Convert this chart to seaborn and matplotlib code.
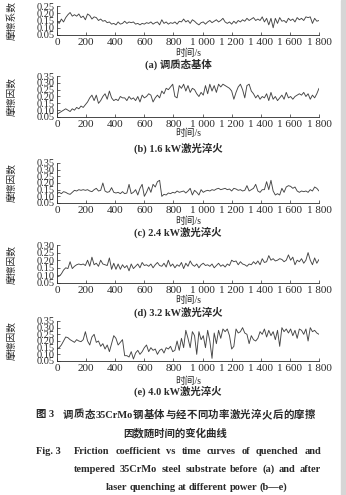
import numpy as np
import pandas as pd
import seaborn as sns
import matplotlib.pyplot as plt
from matplotlib.patches import Rectangle

# friction coefficient readings, sampled every ~15 s from 0 to 1800 s
mu_a = [0.145, 0.13, 0.16, 0.14, 0.17, 0.19, 0.205, 0.18, 0.19, 0.18, 0.195, 0.17, 0.18, 0.155, 0.195,
        0.185, 0.16, 0.175, 0.17, 0.15, 0.16, 0.145, 0.15, 0.135, 0.14, 0.125, 0.13, 0.12, 0.14, 0.125,
        0.13, 0.145, 0.13, 0.14, 0.135, 0.14, 0.125, 0.13, 0.12, 0.13, 0.125, 0.135, 0.13, 0.14, 0.125,
        0.135, 0.14, 0.12, 0.155, 0.13, 0.14, 0.125, 0.135, 0.13, 0.14, 0.125, 0.145, 0.14, 0.16, 0.14,
        0.15, 0.13, 0.155, 0.145, 0.13, 0.12, 0.135, 0.14, 0.125, 0.14, 0.15, 0.135, 0.145, 0.155, 0.14,
        0.15, 0.165, 0.14, 0.13, 0.14, 0.125, 0.145, 0.13, 0.15, 0.14, 0.155, 0.145, 0.165, 0.15, 0.16,
        0.17, 0.15, 0.16, 0.15, 0.175, 0.14, 0.165, 0.12, 0.165, 0.10, 0.165, 0.13, 0.17, 0.145, 0.15,
        0.135, 0.165, 0.15, 0.16, 0.14, 0.17, 0.155, 0.165, 0.15, 0.175, 0.17, 0.175, 0.13, 0.165, 0.145,
        0.15]
mu_b = [0.07, 0.08, 0.09, 0.10, 0.11, 0.10, 0.09, 0.11, 0.10, 0.12, 0.11, 0.13, 0.12, 0.14, 0.16,
        0.19, 0.21, 0.17, 0.21, 0.15, 0.17, 0.20, 0.22, 0.18, 0.24, 0.19, 0.17, 0.18, 0.17, 0.20,
        0.19, 0.19, 0.17, 0.20, 0.18, 0.19, 0.17, 0.20, 0.16, 0.21, 0.19, 0.20, 0.22, 0.21, 0.16,
        0.19, 0.21, 0.19, 0.24, 0.22, 0.26, 0.25, 0.27, 0.29, 0.20, 0.19, 0.28, 0.26, 0.29, 0.24,
        0.28, 0.23, 0.26, 0.25, 0.22, 0.20, 0.23, 0.21, 0.28, 0.22, 0.29, 0.24, 0.28, 0.23, 0.29,
        0.27, 0.29, 0.28, 0.27, 0.26, 0.24, 0.18, 0.23, 0.27, 0.29, 0.25, 0.19, 0.28, 0.29, 0.24,
        0.22, 0.19, 0.21, 0.18, 0.20, 0.19, 0.22, 0.17, 0.23, 0.18, 0.20, 0.17, 0.19, 0.21, 0.18,
        0.23, 0.19, 0.20, 0.18, 0.20, 0.21, 0.22, 0.21, 0.23, 0.20, 0.22, 0.18, 0.21, 0.19, 0.22,
        0.26]
mu_c = [0.12, 0.13, 0.12, 0.135, 0.13, 0.12, 0.115, 0.13, 0.145, 0.14, 0.15, 0.145, 0.15, 0.145, 0.15,
        0.14, 0.135, 0.15, 0.16, 0.14, 0.145, 0.20, 0.14, 0.13, 0.135, 0.165, 0.13, 0.125, 0.13, 0.12,
        0.135, 0.12, 0.125, 0.19, 0.12, 0.13, 0.15, 0.11, 0.16, 0.19, 0.10, 0.13, 0.17, 0.13, 0.19,
        0.17, 0.21, 0.22, 0.10, 0.115, 0.11, 0.125, 0.12, 0.13, 0.125, 0.14, 0.13, 0.135, 0.14, 0.125,
        0.14, 0.16, 0.11, 0.145, 0.13, 0.11, 0.15, 0.13, 0.14, 0.145, 0.14, 0.15, 0.145, 0.155, 0.16,
        0.15, 0.155, 0.16, 0.15, 0.155, 0.14, 0.16, 0.155, 0.145, 0.15, 0.14, 0.145, 0.18, 0.14, 0.15,
        0.16, 0.19, 0.14, 0.13, 0.15, 0.15, 0.21, 0.15, 0.22, 0.14, 0.11, 0.12, 0.11, 0.16, 0.13,
        0.17, 0.18, 0.175, 0.16, 0.17, 0.14, 0.13, 0.14, 0.135, 0.14, 0.13, 0.15, 0.14, 0.17, 0.16,
        0.14]
mu_d = [0.09, 0.095, 0.11, 0.135, 0.15, 0.145, 0.19, 0.145, 0.16, 0.17, 0.175, 0.17, 0.175, 0.165, 0.20,
        0.16, 0.22, 0.17, 0.18, 0.16, 0.20, 0.175, 0.17, 0.165, 0.215, 0.14, 0.18, 0.14, 0.175, 0.14,
        0.17, 0.15, 0.165, 0.13, 0.175, 0.145, 0.16, 0.175, 0.15, 0.185, 0.165, 0.17, 0.16, 0.175, 0.15,
        0.17, 0.185, 0.165, 0.16, 0.18, 0.155, 0.20, 0.16, 0.175, 0.15, 0.17, 0.16, 0.185, 0.145, 0.18,
        0.16, 0.195, 0.17, 0.16, 0.175, 0.15, 0.17, 0.18, 0.165, 0.17, 0.16, 0.175, 0.15, 0.165, 0.18,
        0.16, 0.17, 0.155, 0.175, 0.165, 0.20, 0.19, 0.195, 0.17, 0.19, 0.175, 0.17, 0.16, 0.175, 0.17,
        0.19, 0.175, 0.195, 0.17, 0.21, 0.185, 0.19, 0.23, 0.20, 0.21, 0.195, 0.20, 0.21, 0.205, 0.19,
        0.20, 0.235, 0.20, 0.22, 0.17, 0.20, 0.19, 0.21, 0.18, 0.20, 0.25, 0.20, 0.17, 0.215, 0.18,
        0.205]
mu_e = [0.14, 0.15, 0.17, 0.20, 0.23, 0.225, 0.21, 0.20, 0.19, 0.21, 0.20, 0.195, 0.21, 0.27, 0.20,
        0.17, 0.23, 0.25, 0.19, 0.20, 0.16, 0.18, 0.14, 0.17, 0.12, 0.18, 0.24, 0.22, 0.17, 0.19,
        0.21, 0.09, 0.09, 0.08, 0.12, 0.065, 0.11, 0.13, 0.10, 0.12, 0.15, 0.17, 0.12, 0.15, 0.13,
        0.14, 0.10, 0.13, 0.14, 0.11, 0.15, 0.14, 0.16, 0.12, 0.13, 0.20, 0.13, 0.22, 0.15, 0.28,
        0.22, 0.15, 0.27, 0.24, 0.10, 0.27, 0.21, 0.24, 0.15, 0.28, 0.20, 0.07, 0.26, 0.18, 0.28,
        0.22, 0.29, 0.27, 0.29, 0.24, 0.14, 0.16, 0.29, 0.26, 0.27, 0.30, 0.26, 0.25, 0.18, 0.24,
        0.21, 0.20, 0.22, 0.27, 0.25, 0.29, 0.23, 0.28, 0.24, 0.27, 0.21, 0.28, 0.16, 0.30, 0.27,
        0.29, 0.26, 0.29, 0.24, 0.28, 0.22, 0.29, 0.28, 0.25, 0.29, 0.20, 0.30, 0.27, 0.28, 0.26,
        0.25]

series = [mu_a, mu_b, mu_c, mu_d, mu_e]
y_max = [0.25, 0.35, 0.35, 0.30, 0.35]
ylabels = ["摩擦系数", "摩擦因数", "摩擦因数", "摩擦因数", "摩擦因数"]
subtitles = ["(a) 调质态基体", "(b) 1.6 kW激光淬火", "(c) 2.4 kW激光淬火",
             "(d) 3.2 kW激光淬火", "(e) 4.0 kW激光淬火"]
xticks = [0, 200, 400, 600, 800, 1000, 1200, 1400, 1600, 1800]
xticklabels = ["0", "200", "400", "600", "800", "1 000", "1 200", "1 400", "1 600", "1 800"]

sns.set_style("ticks")
plt.rcParams["font.family"] = ["Liberation Serif", "Noto Sans CJK SC"]
plt.rcParams["axes.unicode_minus"] = False

W, H = 346, 495
fig = plt.figure(figsize=(3.46, 4.95), dpi=100)
ink = "#2a2a2a"


def fx(px):
    return px / W


def fy(py):
    return 1 - py / H


# panel layout in pixels: axes top, axes bottom, xlabel y, subtitle y
layout = [(6, 35, 53, 64), (76, 117, 133, 148), (163, 203, 221, 232),
          (245, 283, 300, 312), (321, 361, 381, 391)]
x_left, x_right = 57, 319

for mu, top_val, ylab, sub, (top, bot, xl_y, sub_y) in zip(series, y_max, ylabels, subtitles, layout):
    ax = fig.add_axes([fx(x_left), fy(bot), fx(x_right) - fx(x_left), (bot - top) / H])
    df = pd.DataFrame({"time": np.linspace(0, 1800, len(mu)), "mu": mu})
    sns.lineplot(data=df, x="time", y="mu", ax=ax, color="#444444", linewidth=0.65)
    ax.set_xlim(0, 1800)
    ax.set_ylim(0.05, top_val)
    ax.set_xticks(xticks)
    ax.set_xticklabels(xticklabels)
    yt = np.round(np.arange(0.05, top_val + 0.001, 0.05), 2)
    ax.set_yticks(yt)
    ax.set_yticklabels(["%.2f" % v for v in yt])
    sns.despine(ax=ax)
    for s in ["left", "bottom"]:
        ax.spines[s].set_linewidth(0.6)
        ax.spines[s].set_color(ink)
    ax.tick_params(direction="in", length=2, width=0.5, pad=2, colors=ink, labelcolor=ink)
    ax.tick_params(axis="x", labelsize=8)
    ax.tick_params(axis="y", labelsize=7.5, pad=1.5)
    ax.set_xlabel("")
    ax.set_ylabel("")
    fig.text(fx(12), fy((top + bot) / 2), ylab, rotation=90, ha="center", va="center",
             fontsize=7, color=ink)
    fig.text(fx(188), fy(xl_y), "时间/s", ha="center", va="center", fontsize=7, color=ink)
    fig.text(fx(178), fy(sub_y), sub, ha="center", va="center", fontsize=7.5,
             fontweight="bold", color=ink)

renderer = fig.canvas.get_renderer()


def spread(tokens, x0, x1, y, **kw):
    texts = [fig.text(0, fy(y), t, ha="left", va="center", color=ink, **kw) for t in tokens]
    widths = [t.get_window_extent(renderer).width for t in texts]
    gap = (x1 - x0 - sum(widths)) / max(len(tokens) - 1, 1)
    x = x0
    for t, w in zip(texts, widths):
        t.set_x(fx(x))
        x += w + gap


cap_kw = dict(fontsize=7.5, fontweight="bold")
fig.text(fx(36), fy(415), "图 3", ha="left", va="center", color=ink, **cap_kw)
spread(list("调质态") + ["35CrMo"] + list("钢基体与经不同功率激光淬火后的摩擦"), 63, 315, 415, **cap_kw)
fig.text(fx(175), fy(433), "因数随时间的变化曲线", ha="center", va="center", color=ink, **cap_kw)
fig.text(fx(36), fy(452), "Fig. 3", ha="left", va="center", color=ink, **cap_kw)
spread("Friction coefficient vs time curves of quenched and".split(), 74, 321, 452, **cap_kw)
spread("tempered 35CrMo steel substrate before (a) and after".split(), 74, 321, 469, **cap_kw)
spread("laser quenching at different power (b—e)".split(), 106, 287, 487, **cap_kw)

fig.patches.append(Rectangle((fx(341), 0), fx(5), 1, transform=fig.transFigure,
                             color="#d6d6d6", zorder=0))

fig.savefig("out.png", dpi=100)
